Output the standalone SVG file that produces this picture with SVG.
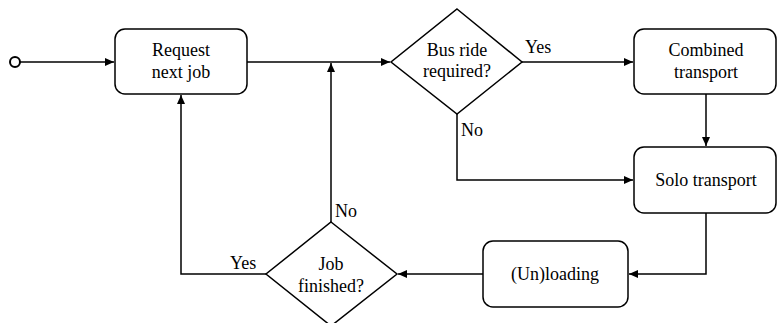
<svg xmlns="http://www.w3.org/2000/svg" width="778" height="323" viewBox="0 0 778 323" font-family="Liberation Serif, Times New Roman, serif" font-size="18">
<style>
.n{fill:#fff;stroke:#000;stroke-width:1.5}
.c{fill:none;stroke:#000;stroke-width:1.5}
.m{text-anchor:middle}
</style>
<defs>
<marker id="a" markerWidth="10" markerHeight="10" refX="9" refY="4" orient="auto" markerUnits="userSpaceOnUse">
<path d="M0,0 L9,4 L0,8 Z" fill="#000"/>
</marker>
</defs>
<g id="start"><circle cx="15" cy="62" r="5" fill="#fff" stroke="#000" stroke-width="2"/></g>
<g id="request"><rect class="n" x="115" y="29" width="132" height="65" rx="10"/><text class="m" x="181" y="56">Request</text><text class="m" x="181" y="78">next job</text></g>
<g id="bus"><polygon class="n" points="457,9 522,62 457,114 391,62"/><text class="m" x="457" y="56">Bus ride</text><text class="m" x="457" y="77">required?</text></g>
<g id="combined"><rect class="n" x="634" y="29" width="142" height="65" rx="10"/><text class="m" x="706" y="56">Combined</text><text class="m" x="706" y="78">transport</text></g>
<g id="solo"><rect class="n" x="634" y="147" width="142" height="66" rx="10"/><text class="m" x="706" y="186">Solo transport</text></g>
<g id="unloading"><rect class="n" x="483" y="241" width="145" height="66" rx="10"/><text class="m" x="555" y="280">(Un)loading</text></g>
<g id="job"><polygon class="n" points="331,222 397,274 331,326 266,274"/><text class="m" x="331" y="270">Job</text><text class="m" x="331" y="292">finished?</text></g>
<g id="connectors">
<path class="c" d="M20,62 H114" marker-end="url(#a)"/>
<path class="c" d="M247,62 H390" marker-end="url(#a)"/>
<path class="c" d="M331,222 V63" marker-end="url(#a)"/>
<path class="c" d="M522,62 H633" marker-end="url(#a)"/>
<path class="c" d="M706,94 V146" marker-end="url(#a)"/>
<path class="c" d="M457,114 V180 H633" marker-end="url(#a)"/>
<path class="c" d="M706,213 V274 H629" marker-end="url(#a)"/>
<path class="c" d="M483,274 H398" marker-end="url(#a)"/>
<path class="c" d="M266,274 H181 V95" marker-end="url(#a)"/>
<text x="525" y="53">Yes</text>
<text x="461" y="136">No</text>
<text x="335" y="217">No</text>
<text x="230" y="269">Yes</text>
</g>
</svg>
